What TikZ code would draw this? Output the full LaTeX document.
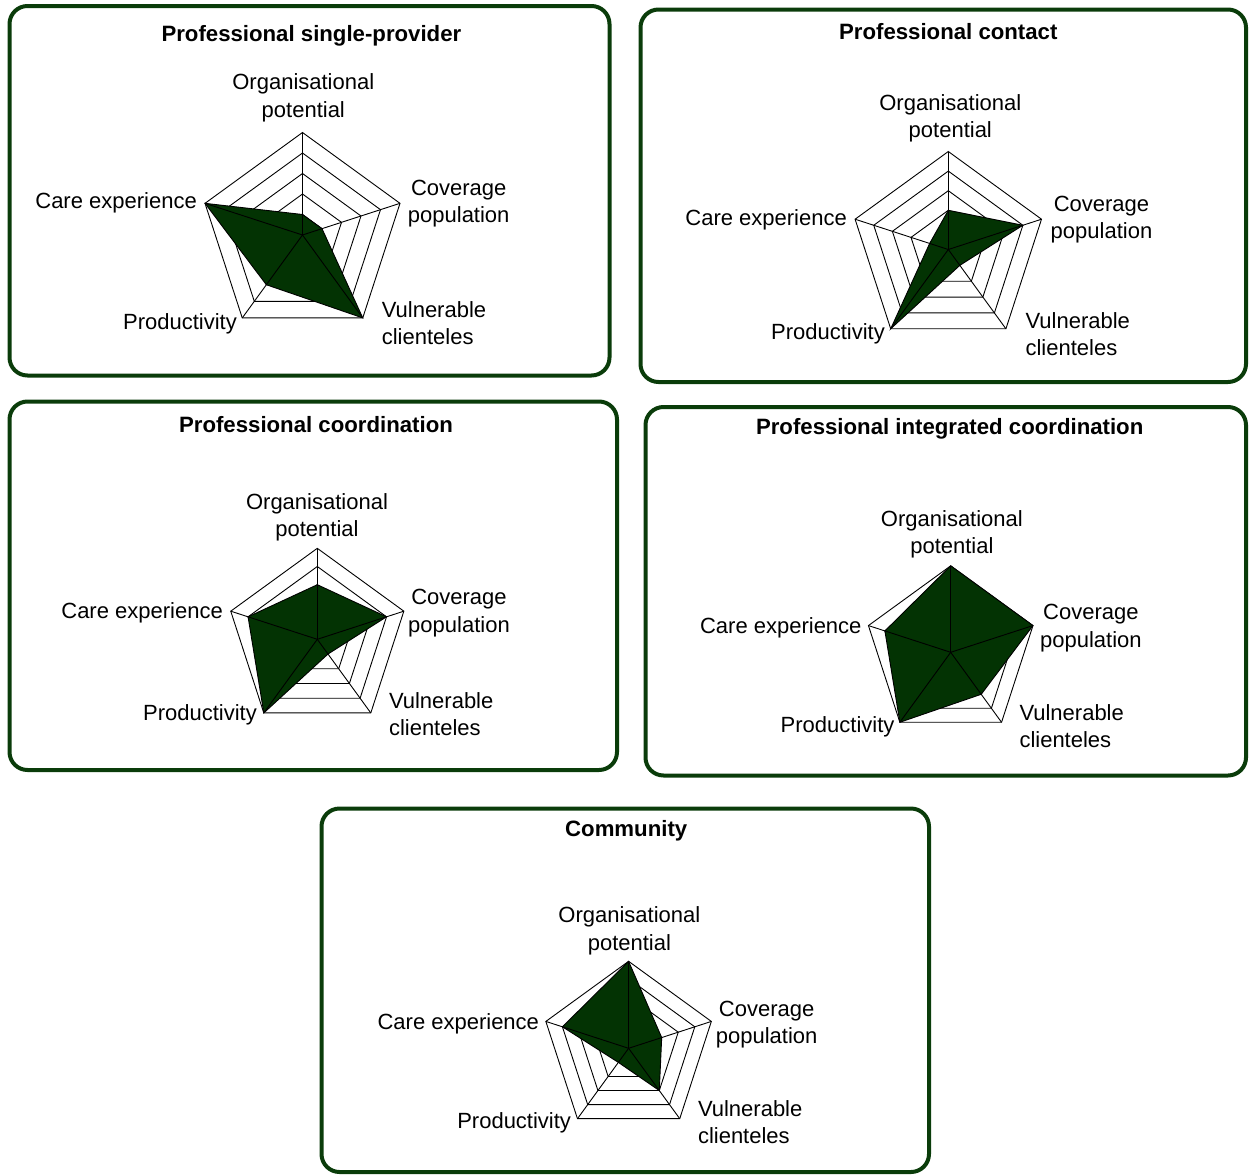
\documentclass[tikz,border=0pt]{standalone}
\usepackage{fontspec}
\setmainfont{Liberation Sans}
\definecolor{seriesgreen}{RGB}{3,51,3}
\definecolor{framegreen}{RGB}{10,60,10}
\tikzset{
  panelbox/.style={draw=framegreen, line width=4pt, rounded corners=18pt},
  paneltitle/.style={font=\fontsize{22.2}{26}\selectfont\bfseries, inner sep=0pt, yshift=-2.5pt},
  axislabel/.style={font=\fontsize{22}{27.5}\selectfont, inner sep=0pt, align=center, yshift=-1.5pt},
  ring/.style={draw=black, line width=0.9pt},
  spoke/.style={draw=black, line width=0.9pt},
  series/.style={fill=seriesgreen, draw=black, line width=0.9pt, line join=miter},
}
% Radar chart with five axes: #1 name, #2/#3 centre, #4 outer radius,
% #5..#9 scores (0..5) for organisation, coverage, vulnerable, productivity, care
\newcommand\radarplot[9]{%
  \begin{scope}[shift={(#2,#3)}]
    \coordinate (#1-c) at (0,0);
    \coordinate (#1-org) at ({-90}:{#4});
    \coordinate (#1-cov) at ({-18}:{#4});
    \coordinate (#1-vul) at ({54}:{#4});
    \coordinate (#1-prod) at ({126}:{#4});
    \coordinate (#1-care) at ({198}:{#4});
    \foreach \k in {1,...,5}{
      \draw[ring] ({-90}:{\k*#4/5}) -- ({-18}:{\k*#4/5}) -- ({54}:{\k*#4/5})
        -- ({126}:{\k*#4/5}) -- ({198}:{\k*#4/5}) -- cycle;}
    \draw[series] ({-90}:{#5*#4/5}) -- ({-18}:{#6*#4/5}) -- ({54}:{#7*#4/5})
      -- ({126}:{#8*#4/5}) -- ({198}:{#9*#4/5}) -- cycle;
    \foreach \v in {org,cov,vul,prod,care} \draw[spoke] (#1-c) -- (#1-\v);
  \end{scope}}
\begin{document}
\begin{tikzpicture}[x=1pt,y=-1pt]
\useasboundingbox (0,0) rectangle (1250,1175);

% Professional single-provider
\draw[panelbox] (9.5,6) rectangle (609.5,375.5);
\node[paneltitle] (t1) at (311.4,33.3) {Professional single-provider};
\radarplot{a}{302.5}{235}{102.5}{1}{1}{5}{3}{5}
\node[axislabel] (a-lorg) at (303.3,96.3) {Organisational\\potential};
\node[axislabel] (a-lcov) at (458.7,202) {Coverage\\population};
\node[axislabel, anchor=east] (a-lcare) at (197,201.7) {Care experience};
\node[axislabel, anchor=east] (a-lprod) at (237,322.7) {Productivity};
\node[axislabel, anchor=west, align=left] (a-lvul) at (381.6,321.7) {Vulnerable\\clienteles};

% Professional contact
\draw[panelbox] (640.5,9.5) rectangle (1246,382);
\node[paneltitle] (t2) at (948.3,29.3) {Professional contact};
\radarplot{b}{948.3}{249.5}{98}{2}{4}{1}{5}{1}
\node[axislabel] (b-lorg) at (950.3,116.7) {Organisational\\potential};
\node[axislabel] (b-lcov) at (1101.5,218) {Coverage\\population};
\node[axislabel, anchor=east] (b-lcare) at (847,218) {Care experience};
\node[axislabel, anchor=east] (b-lprod) at (885,332) {Productivity};
\node[axislabel, anchor=west, align=left] (b-lvul) at (1025.4,332.5) {Vulnerable\\clienteles};

% Professional coordination
\draw[panelbox] (9.5,401.5) rectangle (617,770);
\node[paneltitle] (t3) at (316,421.7) {Professional coordination};
\radarplot{c}{317.3}{639.3}{91}{3}{4}{1}{5}{4}
\node[axislabel] (c-lorg) at (317,515.8) {Organisational\\potential};
\node[axislabel] (c-lcov) at (459,611.7) {Coverage\\population};
\node[axislabel, anchor=east] (c-lcare) at (223,611.7) {Care experience};
\node[axislabel, anchor=east] (c-lprod) at (257,713.3) {Productivity};
\node[axislabel, anchor=west, align=left] (c-lvul) at (388.8,712.8) {Vulnerable\\clienteles};

% Professional integrated coordination
\draw[panelbox] (645.5,407) rectangle (1246,775.5);
\node[paneltitle] (t4) at (949.7,426.7) {Professional integrated coordination};
\radarplot{d}{950.7}{652.3}{86.5}{5}{5}{3}{5}{4}
\node[axislabel] (d-lorg) at (951.9,532.8) {Organisational\\potential};
\node[axislabel] (d-lcov) at (1090.9,626.7) {Coverage\\population};
\node[axislabel, anchor=east] (d-lcare) at (861.7,626.7) {Care experience};
\node[axislabel, anchor=east] (d-lprod) at (894.6,725) {Productivity};
\node[axislabel, anchor=west, align=left] (d-lvul) at (1019.3,724.5) {Vulnerable\\clienteles};

% Community
\draw[panelbox] (321.5,808.5) rectangle (929,1172);
\node[paneltitle] (t5) at (626.2,828.3) {Community};
\radarplot{e}{628.6}{1048.3}{87}{5}{2}{3}{1}{4}
\node[axislabel] (e-lorg) at (629.4,929.3) {Organisational\\potential};
\node[axislabel] (e-lcov) at (766.6,1023) {Coverage\\population};
\node[axislabel, anchor=east] (e-lcare) at (539.2,1022.7) {Care experience};
\node[axislabel, anchor=east] (e-lprod) at (571.2,1121) {Productivity};
\node[axislabel, anchor=west, align=left] (e-lvul) at (697.8,1120.5) {Vulnerable\\clienteles};
\end{tikzpicture}
\end{document}
